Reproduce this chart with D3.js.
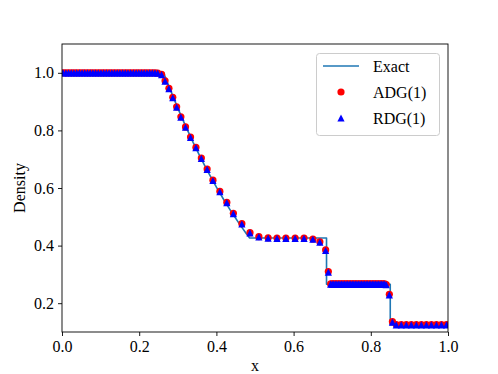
<!DOCTYPE html>
<html>
<head>
<meta charset="utf-8">
<script src="https://cdn.jsdelivr.net/npm/d3@7"></script>
<style>
  html, body { margin: 0; padding: 0; background: #fff; }
  svg { display: block; }
  text { font-family: "Liberation Serif", "Times New Roman", serif; fill: #000; }
</style>
</head>
<body>
<svg id="chart" width="498" height="374"></svg>
<script>
// ---- data ----
const xTicks = [0.0, 0.2, 0.4, 0.6, 0.8, 1.0];
const yTicks = [0.2, 0.4, 0.6, 0.8, 1.0];
const legendLabels = ["Exact", "ADG(1)", "RDG(1)"];

// exact solution (Sod shock tube, t = 0.2)
const exactX = [0.0, 0.2633, 0.28, 0.30, 0.32, 0.34, 0.36, 0.38, 0.40, 0.42, 0.44, 0.46, 0.48, 0.4861, 0.6853, 0.6853, 0.8504, 0.8504, 1.0];
const exactY = [1.0, 1.0, 0.9428, 0.8774, 0.8158, 0.7577, 0.7030, 0.6514, 0.6030, 0.5574, 0.5147, 0.4745, 0.4370, 0.4263, 0.4263, 0.2656, 0.2656, 0.125, 0.125];

// numerical solutions (marker positions)
const markerX = [
  0.003, 0.010, 0.017, 0.024, 0.031, 0.038, 0.045, 0.052, 0.059, 0.066, 0.073, 0.080,
  0.087, 0.094, 0.101, 0.108, 0.115, 0.122, 0.129, 0.136, 0.143, 0.150, 0.157, 0.164,
  0.171, 0.178, 0.185, 0.192, 0.199, 0.206, 0.213, 0.220, 0.227, 0.234, 0.241, 0.248,
  0.258, 0.267, 0.277, 0.287, 0.297, 0.308, 0.320, 0.333, 0.347, 0.361, 0.376, 0.391,
  0.409, 0.427, 0.444, 0.466, 0.487, 0.510,
  0.534, 0.557, 0.580, 0.604, 0.627, 0.650, 0.668, 0.683, 0.690,
  0.696, 0.700, 0.704, 0.708, 0.712, 0.716, 0.720, 0.724, 0.728, 0.732, 0.736, 0.740,
  0.744, 0.748, 0.752, 0.756, 0.760, 0.764, 0.768, 0.772, 0.776, 0.780, 0.784, 0.788,
  0.792, 0.796, 0.800, 0.804, 0.808, 0.812, 0.816, 0.820, 0.824, 0.828, 0.832, 0.836, 0.840,
  0.848, 0.856,
  0.866, 0.879, 0.892, 0.905, 0.918, 0.931, 0.944, 0.957, 0.970, 0.983, 0.996
];
const adgDensity = [
  1.0, 1.0, 1.0, 1.0, 1.0, 1.0, 1.0, 1.0, 1.0, 1.0, 1.0, 1.0,
  1.0, 1.0, 1.0, 1.0, 1.0, 1.0, 1.0, 1.0, 1.0, 1.0, 1.0, 1.0,
  1.0, 1.0, 1.0, 1.0, 1.0, 1.0, 1.0, 1.0, 1.0, 1.0, 1.0, 0.999,
  0.995, 0.972, 0.946, 0.915, 0.882, 0.847, 0.812, 0.777, 0.741, 0.704, 0.666, 0.627,
  0.588, 0.550, 0.512, 0.476, 0.445, 0.431,
  0.427, 0.426, 0.426, 0.426, 0.426, 0.423, 0.413, 0.385, 0.310,
  0.267, 0.267, 0.267, 0.267, 0.267, 0.267, 0.267, 0.267, 0.267, 0.267, 0.267, 0.267,
  0.267, 0.267, 0.267, 0.267, 0.267, 0.267, 0.267, 0.267, 0.267, 0.267, 0.267, 0.267,
  0.267, 0.267, 0.267, 0.267, 0.267, 0.267, 0.267, 0.267, 0.267, 0.267, 0.267, 0.267, 0.265,
  0.231, 0.136,
  0.126, 0.126, 0.126, 0.126, 0.126, 0.126, 0.126, 0.126, 0.126, 0.126, 0.126
];
const rdgDensity = [
  1.0, 1.0, 1.0, 1.0, 1.0, 1.0, 1.0, 1.0, 1.0, 1.0, 1.0, 1.0,
  1.0, 1.0, 1.0, 1.0, 1.0, 1.0, 1.0, 1.0, 1.0, 1.0, 1.0, 1.0,
  1.0, 1.0, 1.0, 1.0, 1.0, 1.0, 1.0, 1.0, 1.0, 1.0, 1.0, 0.999,
  0.994, 0.971, 0.945, 0.914, 0.881, 0.846, 0.811, 0.776, 0.740, 0.703, 0.665, 0.626,
  0.587, 0.549, 0.511, 0.475, 0.444, 0.430,
  0.426, 0.425, 0.425, 0.425, 0.425, 0.422, 0.412, 0.383, 0.308,
  0.266, 0.266, 0.266, 0.266, 0.266, 0.266, 0.266, 0.266, 0.266, 0.266, 0.266, 0.266,
  0.266, 0.266, 0.266, 0.266, 0.266, 0.266, 0.266, 0.266, 0.266, 0.266, 0.266, 0.266,
  0.266, 0.266, 0.266, 0.266, 0.266, 0.266, 0.266, 0.266, 0.266, 0.266, 0.266, 0.266, 0.264,
  0.229, 0.134,
  0.125, 0.125, 0.125, 0.125, 0.125, 0.125, 0.125, 0.125, 0.125, 0.125, 0.125
];

// ---- layout ----
const W = 498, H = 374;
const M = { left: 62, right: 50, top: 44, bottom: 42 };
const FONT = 16;
const svg = d3.select("#chart");

const x = d3.scaleLinear().domain([0, 1]).range([M.left, W - M.right]);
const y = d3.scaleLinear().domain([0.1, 1.1]).range([H - M.bottom, M.top]);

// clip
svg.append("defs").append("clipPath").attr("id", "clip")
  .append("rect").attr("x", M.left).attr("y", M.top)
  .attr("width", W - M.left - M.right).attr("height", H - M.top - M.bottom);

const plot = svg.append("g").attr("clip-path", "url(#clip)");

// exact line
const exactPts = exactX.map((d, i) => [d, exactY[i]]);
plot.append("path")
  .datum(exactPts)
  .attr("fill", "none")
  .attr("stroke", "#1f77b4")
  .attr("stroke-width", 1.6)
  .attr("stroke-linejoin", "round")
  .attr("d", d3.line().x(d => x(d[0])).y(d => y(d[1])));

const R = 3.6;
const triPath = `M0,${-R}L${-R},${R}L${R},${R}Z`;

// ADG markers
plot.append("g").selectAll("circle")
  .data(markerX.map((d, i) => [d, adgDensity[i]]))
  .join("circle")
  .attr("cx", d => x(d[0])).attr("cy", d => y(d[1]))
  .attr("r", R).attr("fill", "#ff0000");

// RDG markers
plot.append("g").selectAll("path")
  .data(markerX.map((d, i) => [d, rdgDensity[i]]))
  .join("path")
  .attr("transform", d => `translate(${x(d[0])},${y(d[1])})`)
  .attr("d", triPath).attr("fill", "#0000ff");

// axes
const xAxis = svg.append("g")
  .attr("transform", `translate(0,${H - M.bottom})`)
  .call(d3.axisBottom(x).tickValues(xTicks).tickFormat(d3.format(".1f"))
    .tickSize(4).tickPadding(5).tickSizeOuter(0));
const yAxis = svg.append("g")
  .attr("transform", `translate(${M.left},0)`)
  .call(d3.axisLeft(y).tickValues(yTicks).tickFormat(d3.format(".1f"))
    .tickSize(4).tickPadding(4).tickSizeOuter(0));
[xAxis, yAxis].forEach(a => {
  a.select(".domain").remove();
  a.selectAll(".tick line").attr("stroke", "#000").attr("stroke-width", 0.9);
  a.selectAll(".tick text").style("font-family", "'Liberation Serif', serif")
    .style("font-size", FONT + "px").attr("fill", "#000");
});

// frame
svg.append("rect")
  .attr("x", M.left).attr("y", M.top)
  .attr("width", W - M.left - M.right).attr("height", H - M.top - M.bottom)
  .attr("fill", "none").attr("stroke", "#000").attr("stroke-width", 0.9);

// axis labels
svg.append("text")
  .attr("x", (M.left + W - M.right) / 2).attr("y", 371)
  .attr("text-anchor", "middle").style("font-size", FONT + "px").text("x");
svg.append("text")
  .attr("transform", `translate(25,${(M.top + H - M.bottom) / 2}) rotate(-90)`)
  .attr("text-anchor", "middle").style("font-size", FONT + "px").text("Density");

// legend
const lg = svg.append("g");
lg.append("rect")
  .attr("x", 316.5).attr("y", 53.5).attr("width", 123).attr("height", 82)
  .attr("rx", 3).attr("fill", "#fff").attr("fill-opacity", 0.8)
  .attr("stroke", "#cccccc").attr("stroke-width", 1);
const rowY = [66, 92, 118];
lg.append("line").attr("x1", 323).attr("x2", 359).attr("y1", rowY[0]).attr("y2", rowY[0])
  .attr("stroke", "#1f77b4").attr("stroke-width", 1.6);
lg.append("circle").attr("cx", 341).attr("cy", rowY[1]).attr("r", R).attr("fill", "#ff0000");
lg.append("path").attr("transform", `translate(341,${rowY[2]})`).attr("d", triPath).attr("fill", "#0000ff");
legendLabels.forEach((t, i) => {
  lg.append("text").attr("x", 373).attr("y", rowY[i]).attr("dy", "0.35em")
    .style("font-size", FONT + "px").text(t);
});
</script>
</body>
</html>
